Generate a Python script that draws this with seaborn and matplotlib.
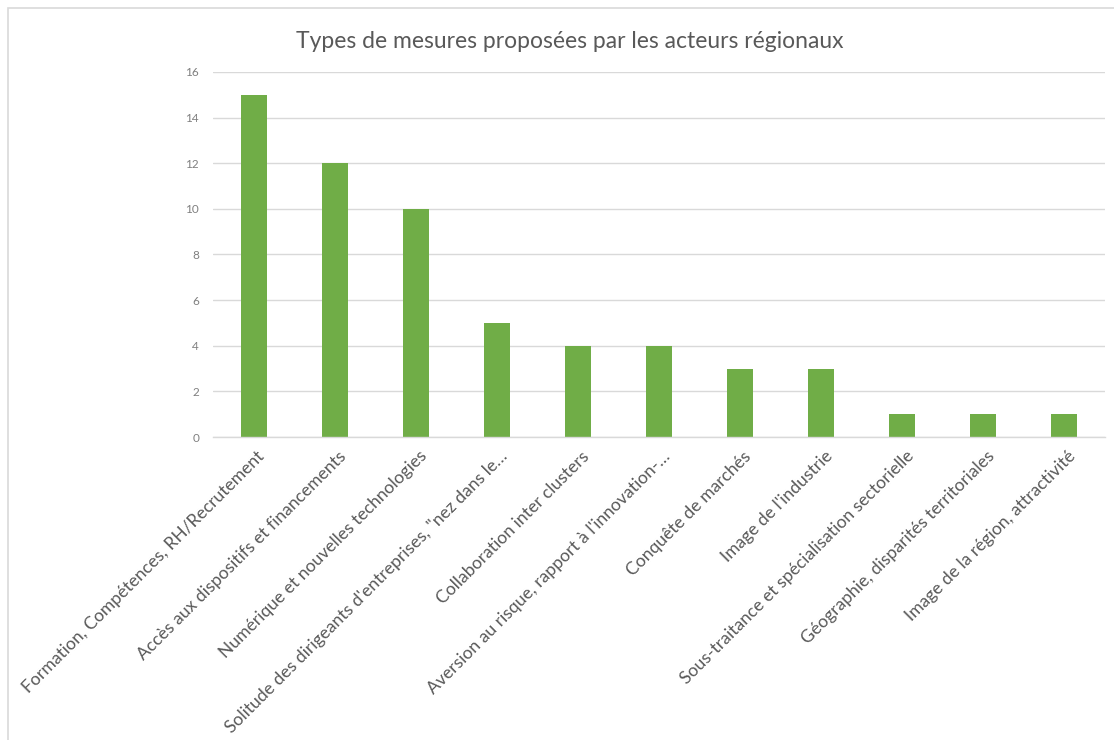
import matplotlib
matplotlib.use("Agg")
import matplotlib.pyplot as plt
import matplotlib.transforms as mtransforms
import seaborn as sns
import pandas as pd
from matplotlib.patches import Rectangle

categories = [
    "Formation, Compétences, RH/Recrutement",
    "Accès aux dispositifs et financements",
    "Numérique et nouvelles technologies",
    "Solitude des dirigeants d'entreprises, \"nez dans le…",
    "Collaboration inter clusters",
    "Aversion au risque, rapport à l'innovation-…",
    "Conquête de marchés",
    "Image de l'industrie",
    "Sous-traitance et spécialisation sectorielle",
    "Géographie, disparités territoriales",
    "Image de la région, attractivité",
]
counts = [15, 12, 10, 5, 4, 4, 3, 3, 1, 1, 1]
y_ticks = [0, 2, 4, 6, 8, 10, 12, 14, 16]
title = "Types de mesures proposées par les acteurs régionaux"

df = pd.DataFrame({"mesure": categories, "nombre": counts})

sns.set_theme(style="white")
plt.rcParams["font.family"] = ["Lato", "DejaVu Sans"]

W, H = 1114, 740
fig = plt.figure(figsize=(W / 100, H / 100), dpi=100)
fig.patch.set_facecolor("white")

# chart-area frame (light grey border, left and top edges visible)
fig.add_artist(Rectangle((8 / W, -0.2), 1.2, (1 - 8 / H) + 0.2,
                         transform=fig.transFigure, fill=False,
                         edgecolor="#D9D9D9", linewidth=1.2))

ax = fig.add_axes([213 / W, 1 - 437 / H, (1105 - 213) / W, (437 - 72) / H])
sns.barplot(data=df, x="mesure", y="nombre", color="#70AD47", width=0.32,
            saturation=1, ax=ax, linewidth=0)

ax.set_ylim(0, 16)
ax.set_xlim(-0.5, len(categories) - 0.5)
ax.set_yticks(y_ticks)
ax.set_yticklabels([str(v) for v in y_ticks], fontsize=8.5, color="#7F7F7F")
ax.yaxis.grid(True, color="#D9D9D9", linewidth=1)
ax.set_axisbelow(True)
for s in ["top", "right", "left"]:
    ax.spines[s].set_visible(False)
ax.spines["bottom"].set_color("#D9D9D9")
ax.spines["bottom"].set_linewidth(1)
ax.tick_params(axis="y", length=0, pad=10)
ax.tick_params(axis="x", length=0, pad=8)
ax.set_xlabel("")
ax.set_ylabel("")

ax.set_xticks(range(len(categories)))
ax.set_xticklabels(categories, rotation=45, ha="right", va="top",
                   rotation_mode="anchor", fontsize=12.6, color="#595959")
shift = mtransforms.ScaledTranslation(3 / 100, 0, fig.dpi_scale_trans)
for lbl in ax.get_xticklabels():
    lbl.set_transform(lbl.get_transform() + shift)

fig.text(570 / W, 1 - 41 / H, title, ha="center", va="center",
         fontsize=16.5, color="#595959")

fig.savefig("out.png", dpi=100, facecolor="white")
